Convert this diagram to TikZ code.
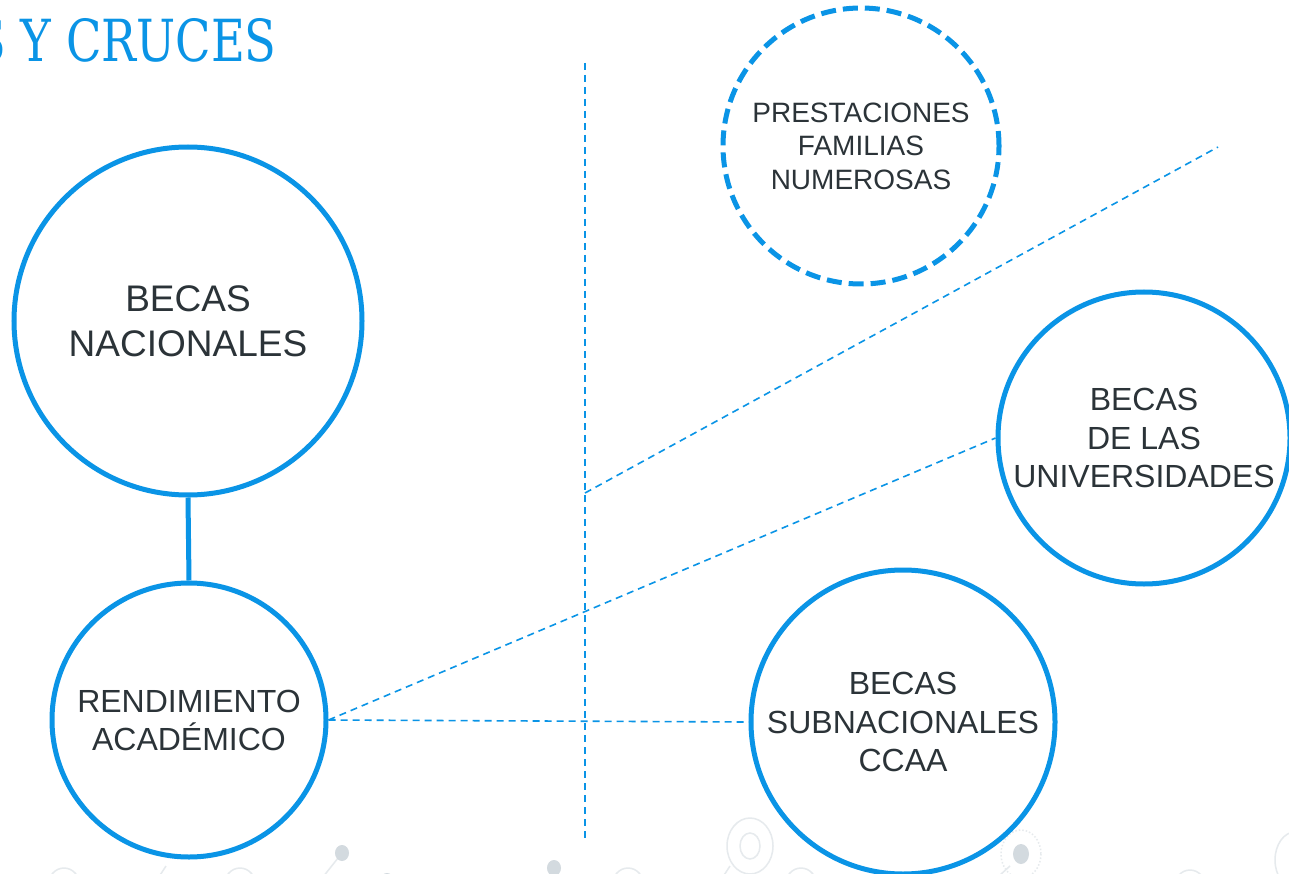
\documentclass[tikz,border=0pt]{standalone}
\usepackage{fontspec}
\setmainfont{Liberation Sans}
\newfontfamily\titlefont{DejaVu Serif}
\definecolor{myblue}{HTML}{0A94E6}
\definecolor{mytext}{HTML}{2B3338}
\definecolor{decoring}{HTML}{E6EAED}
\definecolor{decodot}{HTML}{D3DADF}
\tikzset{
  bubble/.style={circle, draw=myblue, line width=5pt, fill=white, text=mytext, align=center, inner sep=0pt},
  dashbubble/.style={bubble, dash pattern=on 15pt off 7pt},
  thinlink/.style={draw=myblue, line width=1.6pt, dash pattern=on 7pt off 5pt},
  thicklink/.style={draw=myblue, line width=5pt},
  ring/.style={draw=decoring, line width=1.5pt},
  dot/.style={fill=decodot, draw=none}
}
\begin{document}
\begin{tikzpicture}[x=1pt,y=-1pt]
\useasboundingbox (0,0) rectangle (1289,874);
\clip (0,0) rectangle (1289,874);
\fill[white] (0,0) rectangle (1289,874);
% faint background decorations
\draw[ring] (64,886) circle[x radius=16,y radius=18];
\draw[ring] (64,888) circle[radius=6];
\draw[ring] (151,889) -- (166,866);
\draw[ring] (240,886) circle[x radius=16,y radius=18];
\draw[ring] (240,888) circle[radius=6];
\draw[ring] (319,882) -- (342,853);
\draw[ring] (319,882) -- (387,880);
\fill[dot] (342,853) circle[x radius=7,y radius=8];
\fill[dot] (319,882) circle[x radius=7,y radius=8];
\fill[dot] (387,881) circle[x radius=7,y radius=8];
\fill[dot] (423,889) circle[x radius=9,y radius=10];
\fill[dot] (554,868) circle[x radius=7,y radius=8];
\draw[ring] (628,886) circle[x radius=16,y radius=18];
\draw[ring] (750,846) circle[x radius=23,y radius=28];
\draw[ring] (750,846) circle[x radius=10,y radius=13];
\draw[ring] (730,866) -- (715,889);
\draw[ring] (801,886) circle[x radius=16,y radius=18];
\draw[ring] (801,888) circle[radius=6];
\fill[dot] (951,884) circle[x radius=7,y radius=8];
\fill[dot] (988,889) circle[x radius=9,y radius=10];
\draw[ring] (1000,875) -- (1010,866);
\draw[ring, dotted] (1021,854) circle[x radius=20,y radius=24];
\fill[dot] (1021,854) circle[x radius=8,y radius=10];
\draw[ring] (1190,888) circle[x radius=16,y radius=18];
\draw[ring] (1295,860) circle[x radius=20,y radius=28];
% title
\node[anchor=base east, text=myblue, inner sep=0pt] (title) at (277,62)
  {\scalebox{0.8}[1]{\titlefont\fontsize{58}{60}\selectfont S Y CRUCES}};
% circles
\node[bubble, minimum size=348pt, font=\fontsize{37}{45}\selectfont] (nac) at (188,321) {BECAS\\NACIONALES};
\node[bubble, minimum size=274pt, font=\fontsize{32}{38}\selectfont] (rend) at (189,720) {RENDIMIENTO\\ACADÉMICO};
\node[dashbubble, minimum size=276pt, font=\fontsize{28}{33.5}\selectfont] (prest) at (861,146) {PRESTACIONES\\FAMILIAS\\NUMEROSAS};
\node[bubble, minimum size=292pt, font=\fontsize{32}{38.5}\selectfont] (univ) at (1144,438) {BECAS\\DE LAS\\UNIVERSIDADES};
\node[bubble, minimum size=304pt, font=\fontsize{32}{38.5}\selectfont] (sub) at (903,722) {BECAS\\SUBNACIONALES\\CCAA};
% connectors
\coordinate (vtop) at (585,63);
\coordinate (vbot) at (585,840);
\coordinate (vmid) at (585,493);
\coordinate (diagend) at (1218,147);
\draw[thinlink] (vtop) -- (vbot);
\draw[thinlink] (vmid) -- (diagend);
\draw[thinlink] (rend.east) -- (univ.west);
\draw[thinlink] (rend.east) -- (sub.west);
\draw[thicklink] (nac.south) -- (rend.north);
\end{tikzpicture}
\end{document}
